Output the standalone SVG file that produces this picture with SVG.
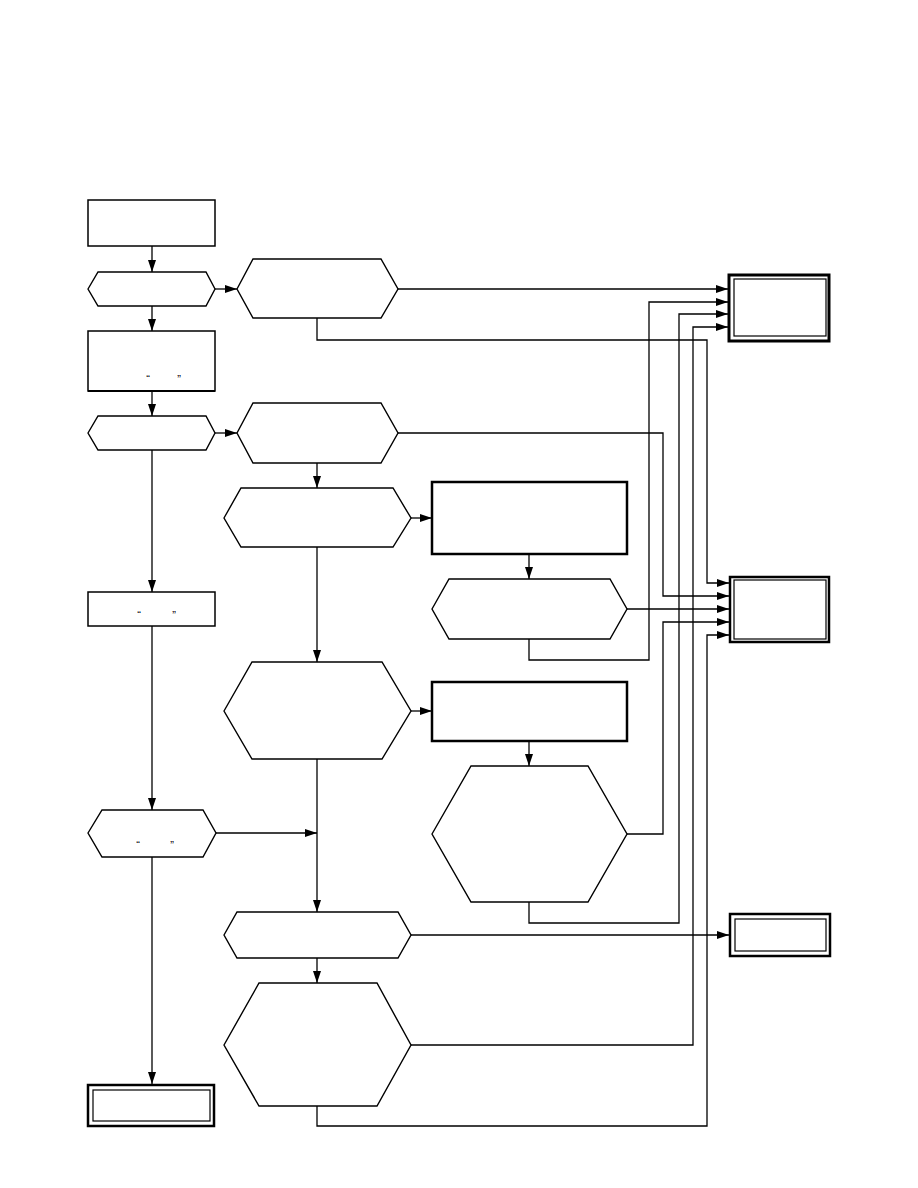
<svg xmlns="http://www.w3.org/2000/svg" width="918" height="1188" viewBox="0 0 918 1188">
<defs>
<style>
.n{fill:#fff;stroke:#000;stroke-width:1.4}
.b{fill:#fff;stroke:#000;stroke-width:1.5}
.t{fill:#fff;stroke:#000;stroke-width:2.5}
.o{fill:#fff;stroke:#000;stroke-width:3}
.i{fill:none;stroke:#000;stroke-width:1.2}
.c{fill:none;stroke:#000;stroke-width:1.3;marker-end:url(#ah)}
.q{font-family:"Liberation Sans",Arial,sans-serif;font-size:11px;fill:#000;text-anchor:middle}
</style>
<marker id="ah" viewBox="0 0 12 8" refX="12" refY="4" markerWidth="12" markerHeight="8" orient="auto" markerUnits="userSpaceOnUse"><path d="M0,0 L12,4 L0,8 z" fill="#000"/></marker>
</defs>
<rect width="918" height="1188" fill="#fff"/>
<g id="connectors">
<path class="c" d="M152,246 V272"/>
<path class="c" d="M152,306 V331"/>
<path class="c" d="M152,391 V416"/>
<path class="c" d="M152,450 V592"/>
<path class="c" d="M152,626 V810"/>
<path class="c" d="M152,857 V1084"/>
<path class="c" d="M215,289 H237"/>
<path class="c" d="M215,433 H237"/>
<path class="c" d="M398,289 H728"/>
<path class="c" d="M317,318 V340 H707 V583 H729"/>
<path class="c" d="M398,433 H663 V596 H729"/>
<path class="c" d="M317,463 V488"/>
<path class="c" d="M411,518 H432"/>
<path class="c" d="M529,554 V579"/>
<path class="c" d="M627,609 H729"/>
<path class="c" d="M529,639 V660 H649 V302 H728"/>
<path class="c" d="M317,547 V662"/>
<path class="c" d="M411,711 H432"/>
<path class="c" d="M529,741 V766"/>
<path class="c" d="M627,834 H663 V622 H729"/>
<path class="c" d="M529,902 V923 H679 V314 H728"/>
<path class="c" d="M317,759 V912"/>
<path class="c" d="M216,833 H317"/>
<path class="c" d="M317,958 V983"/>
<path class="c" d="M411,935 H729"/>
<path class="c" d="M411,1045 H693 V327 H728"/>
<path class="c" d="M317,1106 V1126 H707 V635 H729"/>
</g>
<g id="nA"><rect class="b" x="88" y="200" width="127" height="46"/></g>
<g id="nB"><polygon class="n" points="88,289 98,272 206,272 215,289 206,306 98,306"/></g>
<g id="nC"><rect class="b" x="88" y="331" width="127" height="60"/><line x1="88" y1="391" x2="215" y2="391" stroke="#000" stroke-width="2.2"/><text class="q" x="148" y="383">“</text><text class="q" x="179" y="383">”</text></g>
<g id="nD"><polygon class="n" points="88,433 98,416 206,416 215,433 206,450 98,450"/></g>
<g id="nE"><rect class="b" x="88" y="592" width="127" height="34"/><text class="q" x="139" y="619">“</text><text class="q" x="174" y="619">”</text></g>
<g id="nF"><polygon class="n" points="88,833 102,810 203,810 216,833 203,857 102,857"/><text class="q" x="138" y="849">“</text><text class="q" x="172" y="849">”</text></g>
<g id="nG"><rect class="t" x="88" y="1085" width="126" height="41"/><rect class="i" x="93" y="1090" width="117" height="31"/></g>
<g id="nH"><polygon class="n" points="237,289 253,259 381,259 398,289 381,318 253,318"/></g>
<g id="nI"><polygon class="n" points="237,433 253,403 381,403 398,433 381,463 253,463"/></g>
<g id="nJ"><polygon class="n" points="224,518 241,488 393,488 411,518 393,547 241,547"/></g>
<g id="nM"><polygon class="n" points="224,711 252,662 382,662 411,711 382,759 252,759"/></g>
<g id="nP"><polygon class="n" points="224,935 237,912 398,912 411,935 398,958 237,958"/></g>
<g id="nQ"><polygon class="n" points="224,1045 259,983 377,983 411,1045 377,1106 259,1106"/></g>
<g id="nK"><rect class="t" x="432" y="482" width="195" height="72"/></g>
<g id="nL"><polygon class="n" points="432,609 449,579 610,579 627,609 610,639 449,639"/></g>
<g id="nK2"><rect class="t" x="432" y="682" width="195" height="59"/></g>
<g id="nN"><polygon class="n" points="432,834 471,766 588,766 627,834 588,902 471,902"/></g>
<g id="nT1"><rect class="o" x="729" y="275" width="100" height="66"/><rect class="i" x="734" y="279" width="92" height="57"/></g>
<g id="nT2"><rect class="t" x="730" y="577" width="99" height="65"/><rect class="i" x="734" y="580" width="92" height="59"/></g>
<g id="nT3"><rect class="t" x="730" y="914" width="100" height="42"/><rect class="i" x="735" y="919" width="91" height="32"/></g>
</svg>
